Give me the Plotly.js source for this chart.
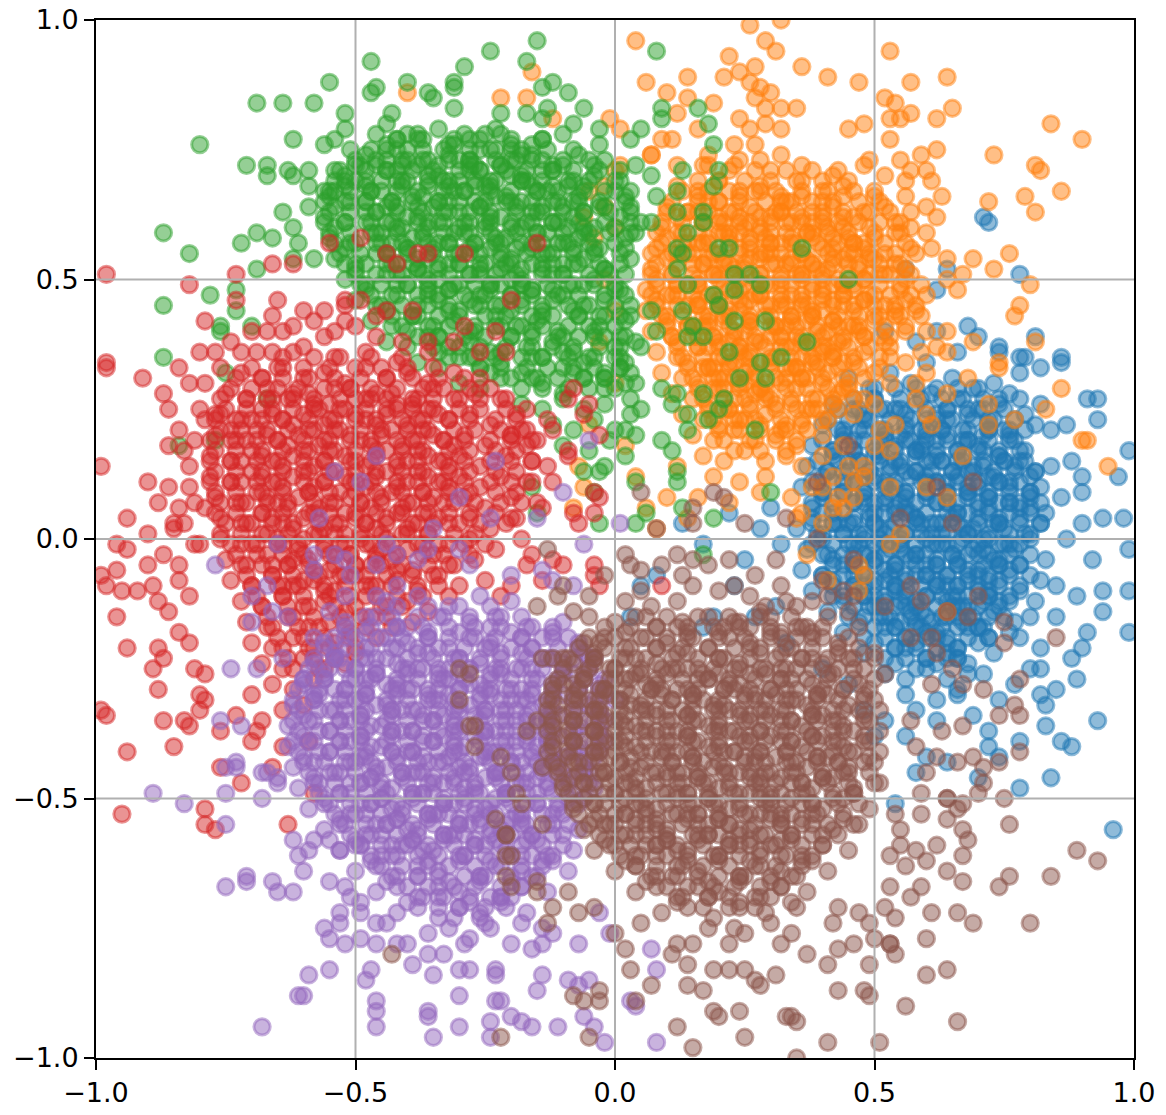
<!DOCTYPE html>
<html>
<head>
<meta charset="utf-8">
<script src="https://cdn.plot.ly/plotly-3.0.1.min.js"></script>
<style>html,body{margin:0;padding:0;background:#fff}</style>
</head>
<body>
<div id="chart" style="width:1166px;height:1115px"></div>
<script>
// six overlapping point clouds (x, y pairs)
const tickVals = [-1, -0.5, 0, 0.5, 1];
const tickText = ['\u22121.0', '\u22120.5', '0.0', '0.5', '1.0'];

const blue = [
[.99,.17],[.93,.27],[.91,.27],[.93,.23],[.97,.12],[.98,.04],[.99,-.02],[.92,-.04],[.94,-.10],[.99,-.10],[.99,-.18],[.94,-.14],[.91,-.18],[.90,-.21],[.89,-.27],[.88,-.23],[.85,-.29],[.83,-.32],[.87,.22],[.84,.21],[.88,.15],[.90,.12],[.90,.09],[.94,.04],[.90,.03],[.87,.00],[.83,-.04],[.85,-.09],[.89,-.11],[.82,.26],[.78,.27],[.81,.22],[.77,.19],[.84,.14],[.82,.10],[.80,.06],[.86,.08],[.82,.03],[.80,-.03],[.82,-.08],[.81,-.12],[.85,-.15],[.80,-.15],[.78,-.19],[.82,-.21],[.82,-.25],[.80,-.25],[.82,-.30],[.77,-.28],[.74,-.31],[.71,-.26],[.66,-.23],[.72,-.19],[.78,.32],[.86,.34],[.82,.33],[.78,.35],[.86,.35],[.78,.51],[.71,.62],[.72,.61],[.74,.37],[.74,.36],[.68,.41],[.70,.39],[.81,.39],[.79,.35],[.64,.52],[.62,.48],[.56,.52],
[.93,-.35],[.83,-.36],[.86,-.39],[.88,-.40],[.78,-.39],[.72,-.37],[.72,-.40],[.84,-.46],[.78,-.48],[.96,-.56],[.70,-.46],[.74,-.42],[.60,-.42],[.64,-.43],[.56,-.38],[.54,-.51],[.52,-.35],[.69,-.34],[.58,-.45],
[.05,-.09],[.08,-.07],[.17,-.01],[.13,.03],[.23,-.09],[.31,-.13],[.32,-.01],[.03,-.15],[.19,-.15],[.30,.06],[.17,-.17],
[.62,.40],[.66,.36],[.58,.38],[.52,.40],[.60,.34],[.28,.02],[.25,-.04],[.22,.05],[.27,-.15],[.33,-.20],[.40,-.25],[.45,-.28],[.48,-.33],[.62,-.35],[.66,-.30],[.58,-.33],[.50,-.38],
[.45,.31],[.49,.29],[.53,.32],[.57,.30],[.61,.28],[.65,.31],[.69,.29],[.73,.30],[.76,.28],
[.42,.26],[.46,.25],[.50,.27],[.54,.25],[.58,.26],[.62,.24],[.66,.27],[.70,.25],[.74,.26],[.79,.24],
[.40,.22],[.44,.21],[.48,.23],[.52,.21],[.56,.22],[.60,.20],[.64,.23],[.68,.21],[.72,.22],[.76,.21],
[.38,.18],[.42,.17],[.46,.19],[.50,.17],[.54,.18],[.58,.16],[.62,.19],[.66,.17],[.70,.18],[.74,.16],[.79,.17],
[.37,.14],[.41,.13],[.45,.15],[.49,.13],[.53,.14],[.57,.12],[.61,.15],[.65,.13],[.69,.14],[.73,.12],[.77,.14],[.81,.13],
[.36,.10],[.40,.09],[.44,.11],[.48,.09],[.52,.10],[.56,.08],[.60,.11],[.64,.09],[.68,.10],[.72,.08],[.76,.10],[.80,.09],
[.38,.06],[.42,.05],[.46,.07],[.50,.05],[.54,.06],[.58,.04],[.62,.07],[.66,.05],[.70,.06],[.74,.04],[.78,.06],[.83,.05],
[.35,.02],[.39,.01],[.43,.03],[.47,.01],[.51,.02],[.55,.00],[.59,.03],[.63,.01],[.67,.02],[.71,.00],[.75,.02],[.79,.01],
[.37,-.02],[.41,-.03],[.45,-.01],[.49,-.03],[.53,-.02],[.57,-.04],[.61,-.01],[.65,-.03],[.69,-.02],[.73,-.04],[.77,-.02],
[.36,-.06],[.40,-.07],[.44,-.05],[.48,-.07],[.52,-.06],[.56,-.08],[.60,-.05],[.64,-.07],[.68,-.06],[.72,-.08],[.76,-.06],[.80,-.07],
[.38,-.10],[.42,-.11],[.46,-.09],[.50,-.11],[.54,-.10],[.58,-.12],[.62,-.09],[.66,-.11],[.70,-.10],[.74,-.12],[.78,-.10],
[.41,-.14],[.45,-.15],[.49,-.13],[.53,-.15],[.57,-.14],[.61,-.16],[.65,-.13],[.69,-.15],[.73,-.14],[.77,-.16],
[.44,-.18],[.48,-.19],[.52,-.17],[.56,-.19],[.60,-.18],[.64,-.20],[.68,-.17],[.72,-.19],[.76,-.18],
[.48,-.22],[.52,-.23],[.56,-.21],[.60,-.23],[.64,-.22],[.68,-.24],[.73,-.22],
[.52,-.26],[.56,-.27],[.60,-.25],[.64,-.27],[.68,-.26],[.56,-.30],[.62,-.31],[.66,-.29],
[.51,.19],[.55,.20],[.59,.18],[.63,.21],[.67,.19],[.71,.20],
[.47,.15],[.51,.16],[.55,.14],[.59,.17],[.63,.15],[.67,.16],[.71,.14],[.75,.15],
[.46,.11],[.50,.12],[.54,.10],[.58,.13],[.62,.11],[.66,.12],[.70,.10],[.74,.11],
[.48,.07],[.52,.08],[.56,.06],[.60,.09],[.64,.07],[.68,.08],[.72,.06],[.76,.07],
[.45,.03],[.49,.04],[.53,.02],[.57,.05],[.61,.03],[.65,.04],[.69,.02],[.73,.03],
[.47,-.01],[.51,.00],[.55,-.02],[.59,.01],[.63,-.01],[.67,.00],[.71,-.02],[.75,-.01],
[.46,-.05],[.50,-.04],[.54,-.06],[.58,-.03],[.62,-.05],[.66,-.04],[.70,-.06],[.74,-.05],
[.48,-.09],[.52,-.08],[.56,-.10],[.60,-.07],[.64,-.09],[.68,-.08],[.72,-.10],
[.51,-.13],[.55,-.12],[.59,-.14],[.63,-.11],[.67,-.13],[.71,-.12],
[.54,-.17],[.58,-.16],[.62,-.18],[.66,-.15],[.70,-.17],
[.48,.24],[.52,.25],[.56,.24],[.60,.23],[.64,.25],[.68,.24],[.72,.23],
[.44,.20],[.48,.21],[.52,.20],[.56,.19],[.60,.21],[.64,.20],[.68,.19],[.72,.21],[.76,.20],
[.42,.16],[.46,.17],[.50,.16],[.54,.15],[.58,.17],[.62,.16],[.66,.15],[.70,.17],[.74,.16],[.78,.15],
[.40,.12],[.44,.13],[.48,.12],[.52,.11],[.56,.13],[.60,.12],[.64,.11],[.68,.13],[.72,.12],[.76,.11],[.80,.12],
[.40,.08],[.44,.09],[.48,.08],[.52,.07],[.56,.09],[.60,.08],[.64,.07],[.68,.09],[.72,.08],[.76,.07],[.80,.08],
[.38,.04],[.42,.03],[.46,.04],[.50,.03],[.54,.05],[.58,.04],[.62,.03],[.66,.05],[.70,.04],[.74,.03],[.78,.04],[.82,.03],
[.40,.00],[.44,.01],[.48,.00],[.52,-.01],[.56,.01],[.60,.00],[.64,-.01],[.68,.01],[.72,.00],[.76,-.01],[.80,.00],
[.42,-.04],[.46,-.03],[.50,-.04],[.54,-.05],[.58,-.03],[.62,-.04],[.66,-.05],[.70,-.03],[.74,-.04],[.78,-.05],
[.42,-.08],[.46,-.07],[.50,-.08],[.54,-.09],[.58,-.07],[.62,-.08],[.66,-.09],[.70,-.07],[.74,-.08],[.78,-.09],
[.44,-.12],[.48,-.11],[.52,-.12],[.56,-.13],[.60,-.11],[.64,-.12],[.68,-.13],[.72,-.11],[.76,-.12],
[.47,-.16],[.51,-.15],[.55,-.16],[.59,-.17],[.63,-.15],[.67,-.16],[.71,-.17],[.75,-.15],
[.50,-.20],[.54,-.21],[.58,-.20],[.62,-.19],[.66,-.21],[.70,-.20],
[.54,-.24],[.58,-.25],[.62,-.24],[.66,-.23]
];
// dense blue core, one row per y: [y, x, x, ...]
const blueFill = [
[.29,.50,.54,.58,.62,.66,.70],
[.27,.46,.50,.55,.59,.63,.67,.71,.74],
[.25,.43,.47,.51,.55,.60,.64,.68,.71,.75],
[.23,.41,.45,.49,.53,.57,.62,.65,.69,.73,.77],
[.21,.43,.47,.51,.56,.59,.63,.67,.72,.75,.79],
[.19,.40,.44,.48,.52,.57,.60,.64,.68,.72,.76],
[.17,.42,.46,.51,.54,.58,.62,.66,.71,.74,.78],
[.15,.39,.43,.47,.51,.55,.60,.63,.67,.71,.75,.79],
[.13,.41,.45,.49,.53,.58,.61,.65,.69,.73,.77,.81],
[.11,.38,.42,.46,.50,.54,.59,.62,.66,.70,.74,.78],
[.09,.40,.44,.48,.53,.56,.60,.64,.68,.72,.76,.80],
[.07,.38,.42,.46,.50,.55,.58,.62,.66,.70,.74,.78,.82],
[.05,.40,.44,.49,.52,.56,.60,.64,.68,.72,.76,.80],
[.03,.38,.42,.46,.50,.54,.58,.63,.66,.70,.74,.78],
[.01,.40,.44,.48,.52,.56,.61,.64,.68,.72,.76,.80],
[-.01,.38,.42,.46,.50,.55,.58,.62,.66,.70,.74,.78],
[-.03,.40,.44,.48,.52,.56,.60,.65,.68,.72,.76],
[-.05,.42,.46,.50,.54,.58,.62,.66,.71,.74,.78],
[-.07,.40,.44,.48,.53,.56,.60,.64,.68,.72,.76],
[-.09,.42,.46,.50,.54,.59,.62,.66,.70,.74],
[-.11,.44,.48,.52,.56,.60,.65,.68,.72,.76],
[-.13,.46,.50,.54,.58,.62,.66,.70,.74],
[-.15,.48,.52,.57,.60,.64,.68,.72],
[-.17,.50,.54,.58,.63,.66,.70],
[-.19,.52,.56,.60,.64,.68],
[-.21,.54,.58,.62,.66],
[-.23,.56,.60,.64]
];

const orange = [
[.04,.96],[.26,.99],[.32,1.0],[.29,.96],[.31,.94],[.22,.93],[.24,.90],[.21,.89],[.14,.89],[.27,.91],[.06,.88],[.10,.86],[.14,.85],[.12,.82],[.19,.84],[.16,.79],[.26,.88],[.28,.87],[.30,.86],[.27,.85],[.24,.81],[.29,.83],[.32,.83],[.29,.80],[.26,.79],[.27,.76],[.32,.79],[.23,.76],[.18,.74],[.09,.77],[.11,.77],[.07,.74],[-.01,.81],[.01,.79],[-.16,.90],[-.17,.85],[-.22,.85],[-.12,.81],[-.02,.68],[.23,.72],[.28,.73],[.32,.74],[.17,.72],[.12,.72],[.07,.74],[.00,.71],[-.05,.67],[-.06,.62],[-.40,.86],
[.36,.91],[.41,.89],[.47,.88],[.53,.94],[.57,.88],[.64,.89],[.52,.85],[.54,.84],[.57,.82],[.65,.83],[.62,.81],[.84,.80],[.90,.77],[.73,.74],[.81,.72],[.82,.71],[.86,.67],[.79,.66],[.81,.63],[.72,.65],[.35,.83],[.45,.79],[.48,.80],[.53,.81],[.55,.81],[.53,.77],[.62,.75],[.59,.74],[.55,.73],[.49,.73],[.57,.71],[.60,.71],[.61,.69],[.52,.70],[.56,.69],[.56,.66],[.63,.66],[.60,.64],[.57,.63],[.54,.61],[.62,.62],[.57,.60],[.60,.59],[.61,.56],[.64,.54],[.69,.54],[.76,.55],[.73,.52],[.67,.51],[.80,.49],[.78,.45],[.77,.43],[.69,.38],[.64,.40],[.64,.36],[.59,.36],[.60,.40],[.58,.44],[.81,.38],[.74,.34],[.64,.50],[.66,.48],
[.74,.33],[.86,.29],[.83,.25],[.77,.23],[.91,.19],[.90,.19],[.95,.14],[.72,.22],[.72,.26],[.67,.16],[.68,.31],[.64,.08],[.60,.10],[.64,-.14],[.53,-.01],[.37,-.03],[.47,-.05],[.41,-.08],[.47,-.10],[.48,-.07],[.42,.06],[.55,.01],[.61,.22],[.60,.24],[.58,.30],[.64,.28],[.53,.10],[.46,.11],[.53,.17],[.51,.21],[.48,.14],[.43,.08],[.35,.04],
[-.02,.64],[.00,.60],[.01,.72],[-.04,.58],[-.02,.50],[.00,.44],[-.03,.38],[.00,.30],[-.05,.22],[-.07,.14],[-.08,.06],[-.06,.10],[.02,.18],[.04,.12],[.06,.06],[.08,.02],[.10,.08],[.12,.14],[.14,.04],
[.16,.08],[.22,.07],[.28,.09],[.34,.08],[.40,.10],[.45,.14],[.50,.18],[.54,.22],[.58,.27],[.60,.32],[.62,.37],
[.36,.14],[.40,.16],[.44,.18],[.38,.10],[.42,.12],[.46,.08],[.36,.05],[.40,.03],[.44,.06],[.48,.12],[.50,.26],[.53,.30],[.56,.34],
[.18,.72],[.24,.73],[.30,.71],[.36,.72],[.42,.70],[.48,.72],
[.12,.68],[.16,.67],[.20,.69],[.24,.67],[.28,.68],[.32,.66],[.36,.69],[.40,.67],[.44,.68],[.50,.66],
[.10,.64],[.14,.63],[.18,.65],[.22,.63],[.26,.64],[.30,.62],[.34,.65],[.38,.63],[.42,.64],[.46,.62],[.52,.64],
[.09,.60],[.13,.59],[.17,.61],[.21,.59],[.25,.60],[.29,.58],[.33,.61],[.37,.59],[.41,.60],[.45,.58],[.49,.60],[.55,.59],
[.08,.56],[.12,.55],[.16,.57],[.20,.55],[.24,.56],[.28,.54],[.32,.57],[.36,.55],[.40,.56],[.44,.54],[.48,.56],[.52,.55],[.57,.56],
[.07,.52],[.11,.51],[.15,.53],[.19,.51],[.23,.52],[.27,.50],[.31,.53],[.35,.51],[.39,.52],[.43,.50],[.47,.52],[.51,.51],[.56,.52],
[.06,.48],[.10,.47],[.14,.49],[.18,.47],[.22,.48],[.26,.46],[.30,.49],[.34,.47],[.38,.48],[.42,.46],[.46,.48],[.50,.47],[.55,.48],[.60,.47],
[.06,.44],[.10,.43],[.14,.45],[.18,.43],[.22,.44],[.26,.42],[.30,.45],[.34,.43],[.38,.44],[.42,.42],[.46,.44],[.50,.43],[.54,.44],[.59,.43],
[.07,.40],[.11,.39],[.15,.41],[.19,.39],[.23,.40],[.27,.38],[.31,.41],[.35,.39],[.39,.40],[.43,.38],[.47,.40],[.51,.39],[.56,.40],
[.08,.36],[.12,.35],[.16,.37],[.20,.35],[.24,.36],[.28,.34],[.32,.37],[.36,.35],[.40,.36],[.44,.34],[.48,.36],[.53,.35],
[.09,.32],[.13,.31],[.17,.33],[.21,.31],[.25,.32],[.29,.30],[.33,.33],[.37,.31],[.41,.32],[.45,.30],[.50,.32],
[.11,.28],[.15,.27],[.19,.29],[.23,.27],[.27,.28],[.31,.26],[.35,.29],[.39,.27],[.43,.28],[.48,.27],
[.13,.24],[.17,.23],[.21,.25],[.25,.23],[.29,.24],[.33,.22],[.37,.25],[.41,.23],[.46,.24],
[.15,.20],[.19,.19],[.23,.21],[.27,.19],[.31,.20],[.35,.18],[.40,.20],
[.17,.16],[.21,.15],[.25,.17],[.29,.15],[.33,.16],[.19,.12],[.24,.11],[.29,.12],
[.20,.61],[.24,.62],[.28,.60],[.32,.63],[.36,.61],[.40,.62],[.44,.60],
[.18,.57],[.22,.58],[.26,.56],[.30,.59],[.34,.57],[.38,.58],[.42,.56],[.46,.57],
[.17,.53],[.21,.54],[.25,.52],[.29,.55],[.33,.53],[.37,.54],[.41,.52],[.45,.53],[.49,.54],
[.16,.49],[.20,.50],[.24,.48],[.28,.51],[.32,.49],[.36,.50],[.40,.48],[.44,.49],[.48,.50],
[.16,.45],[.20,.46],[.24,.44],[.28,.47],[.32,.45],[.36,.46],[.40,.44],[.44,.45],[.48,.46],
[.17,.41],[.21,.42],[.25,.40],[.29,.43],[.33,.41],[.37,.42],[.41,.40],[.45,.41],
[.18,.37],[.22,.38],[.26,.36],[.30,.39],[.34,.37],[.38,.38],[.42,.36],
[.19,.33],[.23,.34],[.27,.32],[.31,.35],[.35,.33],[.39,.34],
[.21,.29],[.25,.30],[.29,.28],[.33,.31],
[.16,.66],[.20,.65],[.24,.66],[.28,.67],[.32,.65],[.36,.66],[.40,.65],[.44,.66],
[.12,.62],[.16,.63],[.20,.62],[.24,.61],[.28,.62],[.32,.63],[.36,.62],[.40,.61],[.44,.62],[.48,.63],
[.10,.58],[.14,.57],[.18,.58],[.22,.59],[.26,.58],[.30,.57],[.34,.58],[.38,.59],[.42,.58],[.46,.57],[.50,.58],
[.10,.54],[.14,.55],[.18,.54],[.22,.53],[.26,.54],[.30,.55],[.34,.54],[.38,.53],[.42,.54],[.46,.55],[.50,.54],[.54,.53],
[.08,.50],[.12,.49],[.16,.50],[.20,.51],[.24,.50],[.28,.49],[.32,.50],[.36,.51],[.40,.50],[.44,.49],[.48,.50],[.52,.51],[.56,.50],
[.08,.46],[.12,.47],[.16,.46],[.20,.45],[.24,.46],[.28,.47],[.32,.46],[.36,.45],[.40,.46],[.44,.47],[.48,.46],[.52,.45],[.56,.46],
[.10,.42],[.14,.41],[.18,.42],[.22,.43],[.26,.42],[.30,.41],[.34,.42],[.38,.43],[.42,.42],[.46,.41],[.50,.42],[.54,.43],
[.12,.38],[.16,.39],[.20,.38],[.24,.37],[.28,.38],[.32,.39],[.36,.38],[.40,.37],[.44,.38],[.48,.39],[.52,.38],
[.14,.34],[.18,.33],[.22,.34],[.26,.35],[.30,.34],[.34,.33],[.38,.34],[.42,.35],[.46,.34],
[.16,.30],[.20,.31],[.24,.30],[.28,.29],[.32,.30],[.36,.31],[.40,.30],[.44,.29],
[.18,.26],[.22,.25],[.26,.26],[.30,.27],[.34,.26],[.38,.25],[.42,.26],
[.20,.22],[.24,.23],[.28,.22],[.32,.21],[.36,.22]
];
const orangeFill = [
[.71,.22,.27,.33,.38,.43],
[.69,.16,.20,.25,.30,.35,.40,.45],
[.67,.13,.18,.22,.27,.31,.36,.41,.46,.50],
[.65,.11,.16,.20,.24,.29,.33,.38,.42,.47,.51],
[.63,.10,.14,.18,.23,.27,.31,.35,.40,.44,.49,.53],
[.61,.09,.13,.17,.21,.26,.30,.34,.38,.43,.47,.51,.55],
[.59,.08,.12,.16,.20,.24,.28,.33,.37,.41,.45,.50,.54],
[.57,.09,.13,.17,.22,.26,.30,.35,.39,.43,.48,.52,.56],
[.55,.07,.11,.15,.19,.24,.28,.32,.36,.41,.45,.49,.54,.58],
[.53,.08,.12,.17,.21,.25,.30,.34,.38,.42,.47,.51,.55],
[.51,.07,.11,.15,.19,.23,.28,.32,.36,.40,.45,.49,.53,.57],
[.49,.08,.12,.16,.21,.25,.29,.34,.38,.42,.46,.51,.55,.59],
[.47,.07,.11,.15,.19,.23,.27,.32,.36,.40,.44,.49,.53,.57],
[.45,.08,.12,.16,.20,.25,.29,.33,.37,.42,.46,.50,.54,.58],
[.43,.09,.13,.17,.21,.26,.30,.34,.38,.43,.47,.51,.55],
[.41,.10,.14,.18,.22,.26,.31,.35,.39,.43,.47,.52,.56],
[.39,.11,.15,.19,.23,.27,.32,.36,.40,.44,.48,.53],
[.37,.12,.16,.20,.24,.29,.33,.37,.41,.45,.49,.53],
[.35,.13,.17,.21,.25,.30,.34,.38,.42,.46,.51],
[.33,.14,.18,.22,.26,.30,.35,.39,.43,.47,.51],
[.31,.15,.19,.23,.27,.31,.36,.40,.44,.48],
[.29,.16,.20,.24,.28,.33,.37,.41,.45],
[.27,.17,.21,.25,.29,.34,.38,.42,.46],
[.25,.18,.22,.26,.31,.35,.39,.43],
[.23,.19,.23,.27,.32,.36,.40],
[.21,.20,.24,.28,.33,.37],
[.19,.21,.26,.31,.35],
[.17,.23,.28,.33]
];

const green = [
[-.47,.92],[-.55,.88],[-.46,.87],[-.47,.86],[-.69,.84],[-.64,.84],[-.58,.84],[-.52,.82],[-.80,.76],[-.62,.77],[-.56,.76],[-.54,.77],[-.52,.79],[-.51,.75],[-.71,.72],[-.67,.72],[-.67,.70],[-.63,.71],[-.62,.70],[-.59,.71],[-.59,.68],[-.54,.71],[-.54,.67],[-.40,.88],[-.36,.86],[-.35,.85],[-.43,.82],[-.44,.80],[-.46,.78],[-.42,.77],[-.38,.78],
[-.87,.59],[-.82,.55],[-.87,.45],[-.87,.35],[-.78,.47],[-.72,.57],[-.69,.59],[-.66,.58],[-.64,.63],[-.62,.60],[-.61,.57],[-.59,.64],[-.56,.67],[-.62,.54],[-.58,.54],[-.69,.52],[-.73,.48],[-.70,.41],[-.76,.41],[-.76,.40],[-.73,.44],[-.52,.69],[-.49,.72],[-.44,.75],[-.41,.72],
[-.15,.96],[-.24,.94],[.08,.94],[-.29,.91],[-.17,.92],[-.31,.88],[-.31,.87],[-.31,.83],[-.22,.82],[-.23,.79],[-.25,.78],[-.12,.88],[-.14,.87],[-.09,.86],[-.06,.83],[-.08,.80],[-.13,.83],[-.14,.81],[-.17,.82],[.09,.81],[.09,.83],[.05,.79],[.03,.77],[.16,.83],[.18,.80],[.19,.76],[-.03,.79],[-.03,.76],[-.31,.76],[-.29,.78],[-.27,.72],[-.20,.75],[-.18,.74],[-.27,.68],
[.04,.72],[.07,.70],[.13,.71],[.12,.67],[.20,.71],[.19,.68],[.08,.66],[.07,.61],[.12,.63],[.17,.63],[.17,.61],[.14,.59],[.12,.56],[.13,.55],[.20,.56],[.22,.56],[.23,.51],[.26,.51],[.28,.49],[.23,.48],[.19,.47],[.20,.45],[.23,.42],[.29,.42],[.32,.35],[.28,.34],[.22,.36],[.15,.41],[.14,.39],[.17,.39],[.13,.44],[.07,.44],[.08,.40],[.05,.37],[.14,.49],[.12,.52],[.36,.56],[.45,.50],[.37,.38],
[.24,.31],[.29,.31],[.17,.28],[.21,.27],[.20,.25],[.18,.23],[.14,.21],[.14,.24],[.11,.26],[.12,.28],[.09,.29],[.05,.25],[.04,.30],[.03,.27],[.27,.21],[.09,.19],[.11,.17],[.02,.21],[.04,.20],[.02,.16],[.12,.13],[.12,.11],[.04,.11],[.06,.05],[.04,.03],[.13,.06],[.19,.04],[.30,.09],[.17,-.03],[-.03,.13],[-.04,.09],[-.02,.14],[-.06,.13],[-.16,.10],[-.15,.05],[.01,.33],[-.03,.03],
[-.84,.18],[-.77,.19],[-.67,.27],[-.75,.32],
[-.40,.78],[-.34,.79],[-.28,.77],[-.22,.78],[-.16,.76],[-.10,.78],
[-.48,.74],[-.44,.73],[-.40,.75],[-.36,.73],[-.32,.74],[-.28,.72],[-.24,.75],[-.20,.73],[-.16,.74],[-.12,.72],[-.07,.74],[-.02,.73],
[-.52,.70],[-.48,.69],[-.44,.71],[-.40,.69],[-.36,.70],[-.32,.68],[-.28,.71],[-.24,.69],[-.20,.70],[-.16,.68],[-.12,.71],[-.08,.69],[-.04,.70],[.01,.69],
[-.55,.66],[-.51,.65],[-.47,.67],[-.43,.65],[-.39,.66],[-.35,.64],[-.31,.67],[-.27,.65],[-.23,.66],[-.19,.64],[-.15,.67],[-.11,.65],[-.07,.66],[-.03,.64],[.02,.66],
[-.56,.62],[-.52,.61],[-.48,.63],[-.44,.61],[-.40,.62],[-.36,.60],[-.32,.63],[-.28,.61],[-.24,.62],[-.20,.60],[-.16,.63],[-.12,.61],[-.08,.62],[-.04,.60],[.01,.62],[.05,.61],
[-.55,.58],[-.51,.57],[-.47,.59],[-.43,.57],[-.39,.58],[-.35,.56],[-.31,.59],[-.27,.57],[-.23,.58],[-.19,.56],[-.15,.59],[-.11,.57],[-.07,.58],[-.03,.56],[.02,.58],
[-.54,.54],[-.50,.53],[-.46,.55],[-.42,.53],[-.38,.54],[-.34,.52],[-.30,.55],[-.26,.53],[-.22,.54],[-.18,.52],[-.14,.55],[-.10,.53],[-.06,.54],[-.02,.52],[.03,.54],
[-.52,.50],[-.48,.49],[-.44,.51],[-.40,.49],[-.36,.50],[-.32,.48],[-.28,.51],[-.24,.49],[-.20,.50],[-.16,.48],[-.12,.51],[-.08,.49],[-.04,.50],[.01,.48],
[-.50,.46],[-.46,.45],[-.42,.47],[-.38,.45],[-.34,.46],[-.30,.44],[-.26,.47],[-.22,.45],[-.18,.46],[-.14,.44],[-.10,.47],[-.06,.45],[-.02,.46],[.03,.45],
[-.47,.42],[-.43,.41],[-.39,.43],[-.35,.41],[-.31,.42],[-.27,.40],[-.23,.43],[-.19,.41],[-.15,.42],[-.11,.40],[-.07,.43],[-.03,.41],[.02,.42],
[-.44,.38],[-.40,.37],[-.36,.39],[-.32,.37],[-.28,.38],[-.24,.36],[-.20,.39],[-.16,.37],[-.12,.38],[-.08,.36],[-.04,.39],[.00,.37],[.04,.38],
[-.38,.34],[-.34,.33],[-.30,.35],[-.26,.33],[-.22,.34],[-.18,.32],[-.14,.35],[-.10,.33],[-.06,.34],[-.02,.32],[.02,.34],
[-.30,.30],[-.26,.29],[-.22,.31],[-.18,.29],[-.14,.30],[-.10,.28],[-.06,.31],[-.02,.29],[.02,.30],
[-.18,.26],[-.14,.25],[-.10,.27],[-.06,.25],[-.02,.26],[.03,.24],[-.12,.22],[-.08,.21],[-.04,.23],[.00,.21],[-.10,.18],[-.05,.17],[-.01,.19],
[-.42,.71],[-.38,.72],[-.34,.70],[-.30,.73],[-.26,.71],[-.22,.72],[-.18,.70],[-.14,.71],
[-.45,.67],[-.41,.68],[-.37,.66],[-.33,.69],[-.29,.67],[-.25,.68],[-.21,.66],[-.17,.69],[-.13,.67],[-.09,.68],
[-.46,.63],[-.42,.64],[-.38,.62],[-.34,.65],[-.30,.63],[-.26,.64],[-.22,.62],[-.18,.65],[-.14,.63],[-.10,.64],[-.06,.63],
[-.45,.59],[-.41,.60],[-.37,.58],[-.33,.61],[-.29,.59],[-.25,.60],[-.21,.58],[-.17,.61],[-.13,.59],[-.09,.60],[-.05,.59],
[-.44,.55],[-.40,.56],[-.36,.54],[-.32,.57],[-.28,.55],[-.24,.56],[-.20,.54],[-.16,.57],[-.12,.55],[-.08,.56],
[-.42,.51],[-.38,.52],[-.34,.50],[-.30,.53],[-.26,.51],[-.22,.52],[-.18,.50],[-.14,.53],[-.10,.51],
[-.36,.47],[-.32,.48],[-.28,.46],[-.24,.49],[-.20,.47],[-.16,.48],[-.12,.46],
[-.44,.76],[-.38,.77],[-.32,.76],[-.26,.75],[-.20,.76],[-.14,.77],
[-.50,.72],[-.46,.72],[-.40,.73],[-.34,.72],[-.28,.73],[-.22,.72],[-.16,.73],[-.10,.72],[-.04,.72],
[-.52,.68],[-.48,.68],[-.42,.69],[-.36,.68],[-.30,.69],[-.24,.68],[-.18,.69],[-.12,.68],[-.06,.68],[.00,.67],
[-.54,.64],[-.48,.65],[-.44,.64],[-.38,.64],[-.32,.65],[-.26,.64],[-.20,.65],[-.14,.64],[-.08,.65],[-.02,.64],[.03,.64],
[-.54,.60],[-.48,.61],[-.42,.60],[-.36,.61],[-.30,.60],[-.24,.61],[-.18,.60],[-.12,.61],[-.06,.60],[.00,.60],[.04,.59],
[-.52,.56],[-.46,.57],[-.40,.56],[-.34,.57],[-.28,.56],[-.22,.57],[-.16,.56],[-.10,.57],[-.04,.56],[.02,.56],
[-.50,.52],[-.44,.53],[-.38,.52],[-.32,.53],[-.26,.52],[-.20,.53],[-.14,.52],[-.08,.53],[-.02,.52],[.02,.51],
[-.48,.48],[-.42,.49],[-.36,.48],[-.30,.49],[-.24,.48],[-.18,.49],[-.12,.48],[-.06,.49],[.00,.48],
[-.44,.44],[-.38,.43],[-.32,.44],[-.26,.45],[-.20,.44],[-.14,.43],[-.08,.44],[-.02,.43],[.03,.43],
[-.40,.40],[-.34,.39],[-.28,.40],[-.22,.41],[-.16,.40],[-.10,.39],[-.04,.40],[.01,.39],
[-.34,.36],[-.28,.35],[-.22,.36],[-.16,.35],[-.10,.36],[-.04,.35],[.01,.35],
[-.24,.32],[-.16,.31],[-.08,.32],[-.02,.31],[.03,.32]
];
const greenFill = [
[.77,-.42,-.37,-.31,-.26,-.20,-.14],
[.75,-.47,-.42,-.37,-.33,-.28,-.23,-.18,-.13,-.08],
[.73,-.50,-.46,-.41,-.37,-.32,-.28,-.23,-.19,-.14,-.10,-.05],
[.71,-.53,-.48,-.44,-.39,-.35,-.30,-.26,-.21,-.17,-.12,-.08,-.03,.01],
[.69,-.54,-.50,-.45,-.41,-.36,-.32,-.27,-.23,-.18,-.14,-.09,-.05,.00],
[.67,-.55,-.51,-.47,-.42,-.38,-.33,-.29,-.24,-.20,-.15,-.11,-.06,-.02,.03],
[.65,-.56,-.52,-.48,-.43,-.39,-.34,-.30,-.25,-.21,-.16,-.12,-.07,-.03,.02],
[.63,-.55,-.51,-.46,-.42,-.37,-.33,-.28,-.24,-.19,-.15,-.10,-.06,-.01,.03],
[.61,-.56,-.52,-.47,-.43,-.38,-.34,-.29,-.25,-.20,-.16,-.11,-.07,-.02,.03],
[.59,-.55,-.51,-.46,-.42,-.37,-.33,-.28,-.24,-.19,-.15,-.10,-.06,-.01,.03],
[.57,-.54,-.50,-.45,-.41,-.36,-.32,-.27,-.23,-.18,-.14,-.09,-.05,.00],
[.55,-.53,-.49,-.44,-.40,-.35,-.31,-.26,-.22,-.17,-.13,-.08,-.04,.01],
[.53,-.52,-.48,-.43,-.39,-.34,-.30,-.25,-.21,-.16,-.12,-.07,-.03,.01],
[.51,-.50,-.46,-.41,-.37,-.32,-.28,-.23,-.19,-.14,-.10,-.05,-.01],
[.49,-.49,-.45,-.40,-.36,-.31,-.27,-.22,-.18,-.13,-.09,-.04,.00],
[.47,-.47,-.43,-.38,-.34,-.29,-.25,-.20,-.16,-.11,-.07,-.02,.02],
[.45,-.45,-.41,-.36,-.32,-.27,-.23,-.18,-.14,-.09,-.05,.00],
[.43,-.43,-.39,-.34,-.30,-.25,-.21,-.16,-.12,-.07,-.03,.01],
[.41,-.41,-.36,-.32,-.27,-.23,-.18,-.14,-.09,-.05,.00],
[.39,-.38,-.34,-.29,-.25,-.20,-.16,-.11,-.07,-.02,.02],
[.37,-.35,-.30,-.26,-.21,-.17,-.12,-.08,-.03,.01],
[.35,-.32,-.27,-.23,-.18,-.14,-.09,-.05,.00],
[.33,-.26,-.22,-.17,-.13,-.08,-.04,.01],
[.31,-.20,-.15,-.11,-.06,-.02],
[.29,-.14,-.09,-.05,.00]
];

const red = [
[-.98,.51],[-.82,.49],[-.79,.42],[-.73,.51],[-.66,.53],[-.62,.53],[-.73,.46],[-.65,.46],[-.60,.44],[-.56,.44],[-.52,.42],[-.98,.34],[-.77,.36],[-.74,.38],[-.72,.36],[-.69,.36],[-.67,.40],[-.64,.40],[-.62,.36],[-.55,.57],[-.49,.58],[-.44,.55],[-.42,.53],[-.38,.55],[-.36,.55],[-.52,.46],[-.49,.46],[-.46,.43],[-.39,.44],[-.41,.38],[-.36,.38],[-.56,.39],[-.52,.45],[-.29,.55],[-.15,.57],[-.20,.46],[-.23,.40],[-.29,.41],[-.31,.38],[-.21,.36],[-.26,.36],
[-.98,.33],[-.91,.31],[-.87,.28],[-.86,.25],[-.82,.30],[-.79,.30],[-.99,.14],[-.90,.11],[-.84,.21],[-.86,.10],[-.88,.07],[-.94,.04],[-.90,.01],[-.85,.02],[-.83,.03],[-.96,-.01],[-.94,-.02],[-.99,-.07],[-.96,-.06],[-.98,-.09],[-.95,-.10],[-.92,-.10],[-.90,-.05],[-.89,-.09],[-.87,-.03],[-.84,-.05],[-.88,-.12],[-.96,-.15],[-.86,-.14],[-.84,-.18],[-.94,-.21],[-.88,-.21],[-.89,-.25],[-.88,-.29],[-.87,-.23],[-.82,-.11],[-.81,-.25],[-.79,-.26],[-.79,-.31],[-.80,-.30],[-.99,-.33],[-.81,-.01],[-.80,-.01],
[-.83,.17],[-.81,.19],[-.79,.23],[-.80,.25],[-.77,.24],[-.74,.21],[-.82,.10],[-.81,.07],[-.84,.06],[-.79,.06],[-.85,.03],
[-.98,-.34],[-.94,-.41],[-.95,-.53],[-.87,-.35],[-.85,-.40],[-.83,-.35],[-.82,-.36],[-.80,-.33],[-.76,-.44],[-.72,-.47],[-.79,-.52],[-.79,-.55],[-.77,-.56],[-.76,-.37],[-.73,-.34],[-.70,-.39],[-.69,-.37],[-.64,-.40],[-.63,-.55],[-.59,-.39],[-.58,-.49],[-.66,-.44],
[-.08,.29],[-.05,.26],[-.06,.24],[-.09,.27],[-.03,.20],[-.13,.23],[-.12,.21],[-.09,.17],[-.09,.16],[-.04,.09],[-.03,.08],[-.04,.05],[-.08,.05],[-.07,.03],[-.17,.21],[-.17,.18],[-.20,.20],[-.13,.14],[-.12,.11],[-.14,.06],[-.20,.04],[-.18,.00],[-.16,-.03],[-.12,-.04],[-.10,-.05],[-.17,-.05],[-.04,-.05],[-.04,-.07],[-.03,-.09],[.09,-.09],[-.14,-.08],[-.20,-.09],[-.22,-.11],[-.25,-.08],
[-.70,.40],[-.66,.43],[-.62,.41],[-.58,.42],[-.54,.40],[-.50,.41],[-.46,.39],[-.44,.44],[-.76,.33],[-.80,.36],[-.84,.33],[-.82,.14],[-.86,.18],[-.84,-.08],[-.82,-.20],
[-.66,.36],[-.60,.37],[-.54,.35],[-.48,.36],[-.42,.34],[-.36,.36],
[-.72,.32],[-.68,.31],[-.64,.33],[-.60,.31],[-.56,.32],[-.52,.30],[-.48,.33],[-.44,.31],[-.40,.32],[-.36,.30],[-.31,.32],[-.26,.31],
[-.75,.28],[-.71,.27],[-.67,.29],[-.63,.27],[-.59,.28],[-.55,.26],[-.51,.29],[-.47,.27],[-.43,.28],[-.39,.26],[-.35,.29],[-.31,.27],[-.27,.28],[-.22,.27],
[-.76,.24],[-.72,.23],[-.68,.25],[-.64,.23],[-.60,.24],[-.56,.22],[-.52,.25],[-.48,.23],[-.44,.24],[-.40,.22],[-.36,.25],[-.32,.23],[-.28,.24],[-.24,.22],[-.19,.24],
[-.77,.20],[-.73,.19],[-.69,.21],[-.65,.19],[-.61,.20],[-.57,.18],[-.53,.21],[-.49,.19],[-.45,.20],[-.41,.18],[-.37,.21],[-.33,.19],[-.29,.20],[-.25,.18],[-.20,.20],[-.15,.19],
[-.78,.16],[-.74,.15],[-.70,.17],[-.66,.15],[-.62,.16],[-.58,.14],[-.54,.17],[-.50,.15],[-.46,.16],[-.42,.14],[-.38,.17],[-.34,.15],[-.30,.16],[-.26,.14],[-.21,.16],[-.16,.15],
[-.78,.12],[-.74,.11],[-.70,.13],[-.66,.11],[-.62,.12],[-.58,.10],[-.54,.13],[-.50,.11],[-.46,.12],[-.42,.10],[-.38,.13],[-.34,.11],[-.30,.12],[-.26,.10],[-.22,.12],[-.17,.11],
[-.77,.08],[-.73,.07],[-.69,.09],[-.65,.07],[-.61,.08],[-.57,.06],[-.53,.09],[-.49,.07],[-.45,.08],[-.41,.06],[-.37,.09],[-.33,.07],[-.29,.08],[-.25,.06],[-.20,.08],[-.15,.07],
[-.76,.04],[-.72,.03],[-.68,.05],[-.64,.03],[-.60,.04],[-.56,.02],[-.52,.05],[-.48,.03],[-.44,.04],[-.40,.02],[-.36,.05],[-.32,.03],[-.28,.04],[-.24,.02],[-.19,.04],
[-.76,.00],[-.72,-.01],[-.68,.01],[-.64,-.01],[-.60,.00],[-.56,-.02],[-.52,.01],[-.48,-.01],[-.44,.00],[-.40,-.02],[-.36,.01],[-.32,-.01],[-.28,.00],[-.23,-.02],
[-.75,-.04],[-.71,-.05],[-.67,-.03],[-.63,-.05],[-.59,-.04],[-.55,-.06],[-.51,-.03],[-.47,-.05],[-.43,-.04],[-.39,-.06],[-.35,-.03],[-.31,-.05],[-.27,-.04],
[-.74,-.08],[-.70,-.09],[-.66,-.07],[-.62,-.09],[-.58,-.08],[-.54,-.10],[-.50,-.07],[-.46,-.09],[-.42,-.08],[-.38,-.10],[-.34,-.07],[-.30,-.09],
[-.72,-.12],[-.68,-.13],[-.64,-.11],[-.60,-.13],[-.56,-.12],[-.52,-.14],[-.48,-.11],[-.44,-.13],[-.40,-.12],[-.36,-.14],[-.32,-.11],
[-.71,-.16],[-.67,-.17],[-.63,-.15],[-.59,-.17],[-.55,-.16],[-.51,-.18],[-.47,-.15],[-.43,-.17],[-.39,-.16],
[-.70,-.20],[-.66,-.21],[-.62,-.19],[-.58,-.21],[-.54,-.20],[-.50,-.22],[-.46,-.19],
[-.68,-.24],[-.64,-.25],[-.60,-.23],[-.56,-.25],[-.52,-.24],[-.66,-.28],[-.62,-.29],[-.58,-.27],[-.70,-.30],[-.64,-.33],[-.60,-.32],[-.68,-.35],
[-.66,.27],[-.62,.28],[-.58,.26],[-.54,.29],[-.50,.27],[-.46,.28],[-.42,.26],[-.38,.27],
[-.70,.23],[-.66,.24],[-.62,.22],[-.58,.25],[-.54,.23],[-.50,.24],[-.46,.22],[-.42,.25],[-.38,.23],[-.34,.24],
[-.71,.19],[-.67,.20],[-.63,.18],[-.59,.21],[-.55,.19],[-.51,.20],[-.47,.18],[-.43,.21],[-.39,.19],[-.35,.20],[-.31,.18],
[-.72,.15],[-.68,.16],[-.64,.14],[-.60,.17],[-.56,.15],[-.52,.16],[-.48,.14],[-.44,.17],[-.40,.15],[-.36,.16],[-.32,.14],
[-.72,.11],[-.68,.12],[-.64,.10],[-.60,.13],[-.56,.11],[-.52,.12],[-.48,.10],[-.44,.13],[-.40,.11],[-.36,.12],[-.32,.10],
[-.71,.07],[-.67,.08],[-.63,.06],[-.59,.09],[-.55,.07],[-.51,.08],[-.47,.06],[-.43,.09],[-.39,.07],[-.35,.08],
[-.70,.03],[-.66,.04],[-.62,.02],[-.58,.05],[-.54,.03],[-.50,.04],[-.46,.02],[-.42,.05],[-.38,.03],[-.34,.04],
[-.69,-.01],[-.65,.00],[-.61,-.02],[-.57,.01],[-.53,-.01],[-.49,.00],[-.45,-.02],[-.41,.01],[-.37,-.01],
[-.66,-.05],[-.62,-.04],[-.58,-.06],[-.54,-.03],[-.50,-.05],[-.46,-.04],[-.42,-.06],
[-.64,-.09],[-.60,-.08],[-.56,-.10],[-.52,-.07],[-.48,-.09]
];
const redFill = [
[.35,-.64,-.58,-.53,-.47,-.41],
[.33,-.70,-.65,-.60,-.55,-.50,-.45,-.40,-.35],
[.31,-.73,-.68,-.64,-.59,-.54,-.49,-.44,-.39,-.34,-.29],
[.29,-.74,-.70,-.65,-.61,-.56,-.51,-.47,-.42,-.37,-.33,-.28,-.24],
[.27,-.76,-.71,-.67,-.62,-.58,-.53,-.48,-.44,-.39,-.35,-.30,-.26,-.21],
[.25,-.75,-.71,-.66,-.62,-.57,-.53,-.48,-.44,-.39,-.35,-.30,-.26,-.21,-.17],
[.23,-.77,-.73,-.68,-.64,-.59,-.55,-.50,-.46,-.41,-.37,-.32,-.28,-.23,-.19],
[.21,-.76,-.72,-.67,-.63,-.58,-.54,-.49,-.45,-.40,-.36,-.31,-.27,-.22,-.18],
[.19,-.78,-.74,-.69,-.65,-.60,-.56,-.51,-.47,-.42,-.38,-.33,-.29,-.24,-.20,-.16],
[.17,-.77,-.73,-.68,-.64,-.59,-.55,-.50,-.46,-.41,-.37,-.32,-.28,-.23,-.19],
[.15,-.78,-.74,-.69,-.65,-.60,-.56,-.51,-.47,-.42,-.38,-.33,-.29,-.24,-.20,-.16],
[.13,-.77,-.73,-.68,-.64,-.59,-.55,-.50,-.46,-.41,-.37,-.32,-.28,-.23,-.19],
[.11,-.78,-.74,-.69,-.65,-.60,-.56,-.51,-.47,-.42,-.38,-.33,-.29,-.24,-.20,-.16],
[.09,-.77,-.73,-.68,-.64,-.59,-.55,-.50,-.46,-.41,-.37,-.32,-.28,-.23,-.19],
[.07,-.76,-.72,-.67,-.63,-.58,-.54,-.49,-.45,-.40,-.36,-.31,-.27,-.22,-.18],
[.05,-.77,-.73,-.68,-.64,-.59,-.55,-.50,-.46,-.41,-.37,-.32,-.28,-.23],
[.03,-.75,-.71,-.66,-.62,-.57,-.53,-.48,-.44,-.39,-.35,-.30,-.26,-.21],
[.01,-.76,-.72,-.67,-.63,-.58,-.54,-.49,-.45,-.40,-.36,-.31,-.27],
[-.01,-.74,-.70,-.65,-.61,-.56,-.52,-.47,-.43,-.38,-.34,-.29,-.25],
[-.03,-.73,-.69,-.64,-.60,-.55,-.51,-.46,-.42,-.37,-.33,-.28],
[-.05,-.72,-.68,-.63,-.59,-.54,-.50,-.45,-.41,-.36,-.32],
[-.07,-.71,-.66,-.62,-.57,-.53,-.48,-.44,-.39,-.35],
[-.09,-.70,-.65,-.61,-.56,-.52,-.47,-.43,-.38,-.34],
[-.11,-.69,-.64,-.60,-.55,-.51,-.46,-.42,-.37],
[-.13,-.68,-.63,-.59,-.54,-.50,-.45,-.41],
[-.15,-.67,-.62,-.58,-.53,-.49,-.44],
[-.17,-.66,-.61,-.57,-.52,-.48],
[-.19,-.65,-.60,-.56,-.51],
[-.21,-.64,-.59,-.55,-.50],
[-.23,-.63,-.58,-.54],
[-.25,-.62,-.57]
];

const purple = [
[-.89,-.49],[-.83,-.51],[-.75,-.49],[-.75,-.55],[-.68,-.50],[-.76,-.35],[-.73,-.44],[-.75,-.44],[-.68,-.45],[-.65,-.46],[-.75,-.67],[-.71,-.65],[-.71,-.66],[-.66,-.66],[-.65,-.68],[-.62,-.68],[-.68,-.94],[-.61,-.88],[-.60,-.88],[-.59,-.84],[-.55,-.83],[-.59,-.60],[-.61,-.61],[-.60,-.64],[-.55,-.66],[-.52,-.67],[-.53,-.72],[-.53,-.74],[-.56,-.75],[-.55,-.77],[-.52,-.78],[-.49,-.77],[-.46,-.74],[-.48,-.85],[-.47,-.83],[-.46,-.91],[-.46,-.94],[-.46,-.89],[-.36,-.91],[-.36,-.92],[-.35,-.96],[-.62,-.58],[-.58,-.58],[-.55,-.58],[-.53,-.60],[-.50,-.59],[-.51,-.69],[-.49,-.70],[-.49,-.72],[-.44,-.74],[-.42,-.78],[-.40,-.78],[-.39,-.82],[-.36,-.80],[-.35,-.84],[-.46,-.78],[-.72,-.36],[-.67,-.45],[-.65,-.47],[-.73,-.43],
[-.30,-.88],[-.30,-.94],[-.24,-.93],[-.24,-.96],[-.23,-.89],[-.22,-.89],[-.20,-.92],[-.18,-.93],[-.16,-.94],[-.11,-.94],[-.14,-.84],[-.15,-.87],[-.09,-.85],[-.07,-.86],[-.05,-.85],[-.06,-.92],[-.04,-.94],[-.02,-.97],[.08,-.97],[.08,-.83],[.07,-.79],[.03,-.89],[.04,-.90],[-.23,-.83],[-.23,-.84],[-.28,-.83],[-.30,-.83],[-.29,-.78],[-.20,-.78],[-.16,-.79],[-.14,-.78],[-.12,-.76],[-.07,-.78],[-.01,-.76],[-.33,-.80],[-.25,-.74],[-.18,-.74],[-.14,-.75],[-.03,-.72],
[-.46,.16],[-.54,.13],[-.49,.11],[-.57,.04],[-.65,-.01],[-.77,-.05],[-.35,.02],[-.44,-.01],[-.58,-.03],[-.58,-.06],[-.54,-.03],[-.52,-.04],[-.51,-.07],[-.67,-.09],[-.70,-.11],[-.66,-.14],[-.63,-.15],[-.70,-.16],[-.64,-.23],[-.69,-.25],[-.74,-.25],[-.58,-.19],[-.60,-.27],[-.55,-.14],[-.52,-.11],[-.46,-.05],[-.42,-.03],[-.38,-.04],[-.36,-.02],[-.42,-.09],[-.46,-.11],[-.54,-.23],[-.57,-.30],
[-.05,.19],[-.23,.15],[-.30,.08],[-.10,.09],[-.24,.04],[-.15,.04],[.01,.03],[-.30,-.02],[-.28,-.05],[-.20,-.07],[-.14,-.06],[-.06,-.01],[-.08,-.09],[-.12,-.08],
[-.44,-.12],[-.38,-.11],[-.32,-.13],[-.26,-.11],[-.20,-.12],
[-.52,-.16],[-.46,-.15],[-.40,-.17],[-.34,-.15],[-.28,-.16],[-.22,-.15],[-.16,-.17],[-.10,-.16],
[-.56,-.20],[-.52,-.19],[-.48,-.21],[-.44,-.19],[-.40,-.20],[-.36,-.18],[-.32,-.21],[-.28,-.19],[-.24,-.20],[-.20,-.18],[-.16,-.21],[-.12,-.19],[-.07,-.20],
[-.58,-.24],[-.54,-.23],[-.50,-.25],[-.46,-.23],[-.42,-.24],[-.38,-.22],[-.34,-.25],[-.30,-.23],[-.26,-.24],[-.22,-.22],[-.18,-.25],[-.14,-.23],[-.10,-.24],[-.05,-.23],
[-.60,-.28],[-.56,-.27],[-.52,-.29],[-.48,-.27],[-.44,-.28],[-.40,-.26],[-.36,-.29],[-.32,-.27],[-.28,-.28],[-.24,-.26],[-.20,-.29],[-.16,-.27],[-.12,-.28],[-.08,-.26],[-.03,-.28],
[-.62,-.32],[-.58,-.31],[-.54,-.33],[-.50,-.31],[-.46,-.32],[-.42,-.30],[-.38,-.33],[-.34,-.31],[-.30,-.32],[-.26,-.30],[-.22,-.33],[-.18,-.31],[-.14,-.32],[-.10,-.30],[-.05,-.32],[.00,-.31],
[-.63,-.36],[-.59,-.35],[-.55,-.37],[-.51,-.35],[-.47,-.36],[-.43,-.34],[-.39,-.37],[-.35,-.35],[-.31,-.36],[-.27,-.34],[-.23,-.37],[-.19,-.35],[-.15,-.36],[-.11,-.34],[-.07,-.36],[-.02,-.35],
[-.63,-.40],[-.59,-.39],[-.55,-.41],[-.51,-.39],[-.47,-.40],[-.43,-.38],[-.39,-.41],[-.35,-.39],[-.31,-.40],[-.27,-.38],[-.23,-.41],[-.19,-.39],[-.15,-.40],[-.11,-.38],[-.07,-.40],[-.02,-.39],
[-.62,-.44],[-.58,-.43],[-.54,-.45],[-.50,-.43],[-.46,-.44],[-.42,-.42],[-.38,-.45],[-.34,-.43],[-.30,-.44],[-.26,-.42],[-.22,-.45],[-.18,-.43],[-.14,-.44],[-.10,-.42],[-.06,-.44],
[-.61,-.48],[-.57,-.47],[-.53,-.49],[-.49,-.47],[-.45,-.48],[-.41,-.46],[-.37,-.49],[-.33,-.47],[-.29,-.48],[-.25,-.46],[-.21,-.49],[-.17,-.47],[-.13,-.48],[-.09,-.46],[-.04,-.48],
[-.59,-.52],[-.55,-.51],[-.51,-.53],[-.47,-.51],[-.43,-.52],[-.39,-.50],[-.35,-.53],[-.31,-.51],[-.27,-.52],[-.23,-.50],[-.19,-.53],[-.15,-.51],[-.11,-.52],[-.06,-.50],
[-.56,-.56],[-.52,-.55],[-.48,-.57],[-.44,-.55],[-.40,-.56],[-.36,-.54],[-.32,-.57],[-.28,-.55],[-.24,-.56],[-.20,-.54],[-.16,-.57],[-.12,-.55],[-.07,-.56],
[-.53,-.60],[-.49,-.59],[-.45,-.61],[-.41,-.59],[-.37,-.60],[-.33,-.58],[-.29,-.61],[-.25,-.59],[-.21,-.60],[-.17,-.58],[-.13,-.61],[-.08,-.60],
[-.50,-.64],[-.46,-.63],[-.42,-.65],[-.38,-.63],[-.34,-.64],[-.30,-.62],[-.26,-.65],[-.22,-.63],[-.18,-.64],[-.14,-.62],[-.09,-.64],
[-.46,-.68],[-.42,-.67],[-.38,-.69],[-.34,-.67],[-.30,-.68],[-.26,-.66],[-.22,-.69],[-.18,-.67],[-.13,-.68],
[-.42,-.72],[-.38,-.71],[-.34,-.73],[-.30,-.71],[-.26,-.72],[-.22,-.70],[-.17,-.72],[-.36,-.76],[-.32,-.75],[-.28,-.77],[-.24,-.75],
[-.50,-.27],[-.46,-.26],[-.42,-.28],[-.38,-.25],[-.34,-.27],[-.30,-.26],[-.26,-.28],[-.22,-.25],
[-.52,-.31],[-.48,-.30],[-.44,-.32],[-.40,-.29],[-.36,-.31],[-.32,-.30],[-.28,-.32],[-.24,-.29],[-.20,-.31],[-.16,-.30],
[-.53,-.35],[-.49,-.34],[-.45,-.36],[-.41,-.33],[-.37,-.35],[-.33,-.34],[-.29,-.36],[-.25,-.33],[-.21,-.35],[-.17,-.34],[-.13,-.35],
[-.53,-.39],[-.49,-.38],[-.45,-.40],[-.41,-.37],[-.37,-.39],[-.33,-.38],[-.29,-.40],[-.25,-.37],[-.21,-.39],[-.17,-.38],[-.13,-.39],
[-.52,-.43],[-.48,-.42],[-.44,-.44],[-.40,-.41],[-.36,-.43],[-.32,-.42],[-.28,-.44],[-.24,-.41],[-.20,-.43],[-.16,-.42],[-.12,-.43],
[-.51,-.47],[-.47,-.46],[-.43,-.48],[-.39,-.45],[-.35,-.47],[-.31,-.46],[-.27,-.48],[-.23,-.45],[-.19,-.47],[-.15,-.46],
[-.49,-.51],[-.45,-.50],[-.41,-.52],[-.37,-.49],[-.33,-.51],[-.29,-.50],[-.25,-.52],[-.21,-.49],[-.17,-.51],
[-.46,-.55],[-.42,-.54],[-.38,-.56],[-.34,-.53],[-.30,-.55],[-.26,-.54],[-.22,-.56],[-.18,-.55],
[-.43,-.59],[-.39,-.58],[-.35,-.60],[-.31,-.57],[-.27,-.59],[-.23,-.58],
[-.48,-.18],[-.42,-.17],[-.36,-.19],[-.30,-.18],[-.24,-.17],[-.18,-.19],[-.12,-.18],
[-.54,-.22],[-.48,-.23],[-.42,-.21],[-.36,-.22],[-.30,-.23],[-.24,-.21],[-.18,-.22],[-.12,-.23],[-.06,-.22],
[-.56,-.26],[-.52,-.25],[-.46,-.26],[-.40,-.25],[-.34,-.26],[-.28,-.25],[-.22,-.26],[-.16,-.25],[-.10,-.26],[-.05,-.25],
[-.58,-.30],[-.54,-.29],[-.48,-.30],[-.42,-.29],[-.36,-.30],[-.30,-.29],[-.24,-.30],[-.18,-.29],[-.12,-.30],[-.07,-.29],[-.02,-.30],
[-.60,-.34],[-.55,-.33],[-.49,-.34],[-.43,-.33],[-.37,-.34],[-.31,-.33],[-.25,-.34],[-.19,-.33],[-.13,-.34],[-.08,-.33],[-.03,-.34],
[-.60,-.38],[-.55,-.37],[-.49,-.38],[-.43,-.37],[-.37,-.38],[-.31,-.37],[-.25,-.38],[-.19,-.37],[-.13,-.38],[-.08,-.37],[-.03,-.38],
[-.60,-.42],[-.55,-.41],[-.49,-.42],[-.43,-.41],[-.37,-.42],[-.31,-.41],[-.25,-.42],[-.19,-.41],[-.13,-.42],[-.08,-.41],[-.04,-.42],
[-.58,-.46],[-.53,-.45],[-.47,-.46],[-.41,-.45],[-.35,-.46],[-.29,-.45],[-.23,-.46],[-.17,-.45],[-.11,-.46],[-.06,-.45],
[-.56,-.50],[-.51,-.49],[-.45,-.50],[-.39,-.49],[-.33,-.50],[-.27,-.49],[-.21,-.50],[-.15,-.49],[-.09,-.50],
[-.53,-.54],[-.48,-.53],[-.42,-.54],[-.36,-.53],[-.30,-.54],[-.24,-.53],[-.18,-.54],[-.12,-.53],
[-.50,-.58],[-.45,-.57],[-.39,-.58],[-.33,-.57],[-.27,-.58],[-.21,-.57],[-.15,-.58],[-.10,-.57],
[-.47,-.62],[-.42,-.61],[-.36,-.62],[-.30,-.61],[-.24,-.62],[-.18,-.61],[-.12,-.62],
[-.44,-.66],[-.38,-.65],[-.32,-.66],[-.26,-.65],[-.20,-.66],[-.15,-.65],
[-.40,-.70],[-.34,-.69],[-.28,-.70],[-.22,-.69]
];
const purpleFill = [
[-.13,-.42,-.36,-.30,-.24],
[-.15,-.48,-.43,-.38,-.33,-.28,-.23,-.18],
[-.17,-.52,-.47,-.42,-.37,-.32,-.27,-.22,-.17,-.12],
[-.19,-.54,-.50,-.45,-.41,-.36,-.32,-.27,-.23,-.18,-.14,-.09],
[-.21,-.56,-.52,-.47,-.43,-.38,-.34,-.29,-.25,-.20,-.16,-.11,-.07],
[-.23,-.58,-.53,-.49,-.44,-.40,-.35,-.31,-.26,-.22,-.17,-.13,-.08,-.04],
[-.25,-.59,-.55,-.50,-.46,-.41,-.37,-.32,-.28,-.23,-.19,-.14,-.10,-.05],
[-.27,-.60,-.56,-.51,-.47,-.42,-.38,-.33,-.29,-.24,-.20,-.15,-.11,-.06,-.02],
[-.29,-.61,-.57,-.52,-.48,-.43,-.39,-.34,-.30,-.25,-.21,-.16,-.12,-.07,-.03],
[-.31,-.62,-.58,-.53,-.49,-.44,-.40,-.35,-.31,-.26,-.22,-.17,-.13,-.08,-.04],
[-.33,-.61,-.57,-.52,-.48,-.43,-.39,-.34,-.30,-.25,-.21,-.16,-.12,-.07,-.03],
[-.35,-.62,-.58,-.53,-.49,-.44,-.40,-.35,-.31,-.26,-.22,-.17,-.13,-.08,-.04],
[-.37,-.61,-.57,-.52,-.48,-.43,-.39,-.34,-.30,-.25,-.21,-.16,-.12,-.07,-.03],
[-.39,-.62,-.58,-.53,-.49,-.44,-.40,-.35,-.31,-.26,-.22,-.17,-.13,-.08,-.04],
[-.41,-.61,-.57,-.52,-.48,-.43,-.39,-.34,-.30,-.25,-.21,-.16,-.12,-.07,-.03],
[-.43,-.60,-.56,-.51,-.47,-.42,-.38,-.33,-.29,-.24,-.20,-.15,-.11,-.06],
[-.45,-.59,-.55,-.50,-.46,-.41,-.37,-.32,-.28,-.23,-.19,-.14,-.10,-.05],
[-.47,-.58,-.54,-.49,-.45,-.40,-.36,-.31,-.27,-.22,-.18,-.13,-.09,-.05],
[-.49,-.57,-.53,-.48,-.44,-.39,-.35,-.30,-.26,-.21,-.17,-.12,-.08],
[-.51,-.56,-.51,-.47,-.42,-.38,-.33,-.29,-.24,-.20,-.15,-.11,-.07],
[-.53,-.54,-.50,-.45,-.41,-.36,-.32,-.27,-.23,-.18,-.14,-.10],
[-.55,-.53,-.48,-.44,-.39,-.35,-.30,-.26,-.21,-.17,-.13,-.09],
[-.57,-.51,-.47,-.42,-.38,-.33,-.29,-.24,-.20,-.16,-.12],
[-.59,-.49,-.45,-.40,-.36,-.31,-.27,-.22,-.18,-.14,-.10],
[-.61,-.47,-.43,-.38,-.34,-.29,-.25,-.20,-.16,-.12],
[-.63,-.45,-.41,-.36,-.32,-.27,-.23,-.18,-.14],
[-.65,-.43,-.38,-.34,-.29,-.25,-.20,-.16],
[-.67,-.40,-.36,-.31,-.27,-.22,-.18],
[-.69,-.37,-.33,-.28,-.24,-.20],
[-.71,-.34,-.30,-.25,-.21],
[-.73,-.31,-.26]
];

const brown = [
[.78,-.41],[.74,-.43],[.71,-.47],[.75,-.50],[.76,-.55],[.89,-.60],[.93,-.62],[.84,-.65],[.76,-.65],[.74,-.67],[.80,-.74],[.69,-.74],[.66,-.72],[.61,-.72],[.60,-.77],[.64,-.83],[.60,-.84],[.56,-.90],[.66,-.93],[.51,-.97],[.41,-.97],[.35,-1.0],[.43,-.87],[.48,-.87],[.49,-.88],[.49,-.82],[.54,-.80],[.53,-.78],[.35,-.93],[.34,-.92],[.67,-.66],[.64,-.64],[.59,-.67],[.57,-.69],[.53,-.67],[.54,-.73],[.52,-.71],[.49,-.74],[.50,-.77],[.46,-.78],[.43,-.79],[.37,-.80],[.41,-.82],[.34,-.76],[.67,-.61],[.68,-.58],[.67,-.56],[.66,-.52],[.64,-.54],[.64,-.50],[.62,-.59],[.60,-.62],[.58,-.60],[.55,-.59],[.53,-.61],[.56,-.63],[.59,-.53],[.55,-.56],[.54,-.53],[.59,-.49],[.64,-.50],[.67,-.51],[.70,-.49],[.71,-.44],[.69,-.42],[.66,-.43],[.62,-.42],[.60,-.45],[.63,-.37],[.67,-.36],[.74,-.34],[.78,-.34],[.58,-.40],[.57,-.35],[.35,-.71],[.42,-.74],[.43,-.71],[.47,-.72],[.53,-.78],
[-.22,-.96],[-.05,-.96],[.07,-.86],[.04,-.89],[.12,-.94],[.15,-.98],[.25,-.96],[.19,-.91],[.20,-.92],[.24,-.91],[.33,-.92],[.14,-.86],[.17,-.87],[.19,-.83],[.22,-.83],[.25,-.83],[.27,-.85],[.28,-.86],[.31,-.84],[.14,-.82],[.11,-.80],[.03,-.83],[.02,-.79],[.00,-.76],[.05,-.74],[.12,-.78],[.15,-.78],[.18,-.75],[.22,-.78],[.25,-.76],[.23,-.75],[.30,-.74],[.32,-.78],[-.06,-.89],[-.03,-.87],[-.03,-.89],[-.08,-.88],[-.07,-.72],[-.13,-.74],[-.12,-.71],[-.04,-.71],[-.15,-.68],[-.20,-.67],[-.21,-.65],[-.15,-.66],[-.09,-.68],[-.20,-.61],[-.21,-.57],[-.23,-.54],[-.14,-.55],
[-.27,-.36],[-.27,-.40],[-.28,-.36],[-.22,-.42],[-.17,-.37],[-.20,-.45],[-.19,-.49],[-.18,-.51],[-.14,-.44],[-.15,-.35],[-.21,-.57],[-.21,-.61],[-.43,-.80],
[.05,.09],[.15,.06],[.15,.03],[.19,.09],[.21,.08],[.25,.03],[.33,.04],[.02,-.03],[.03,-.05],[.05,-.06],[.08,.02],[.12,-.03],[.09,-.05],[.15,-.04],[.13,-.07],[.18,-.05],[.22,-.04],[.23,-.09],[.27,-.07],[.31,-.04],[.15,-.09],[.12,-.12],[.13,-.16],[.05,-.10],[.07,-.13],[.23,-.16],[.21,-.17],[.28,-.14],[.33,-.12],[.32,-.18],[.02,-.12],[-.05,-.11],[-.02,-.07],[-.10,-.09],[-.11,-.11],[-.08,-.14],[-.05,-.15],[-.15,-.13],[-.14,-.23],[-.10,-.23],[-.12,-.23],[-.03,-.20],[-.04,-.24],[-.30,-.25],[-.28,-.26],[-.30,-.31],[-.12,-.28],[-.08,-.28],[-.13,-.02],[-.13,-.31],
[.69,.11],[.62,.10],[.65,.03],[.55,.04],[.45,.18],[.39,.11],[.39,.00],[.70,-.11],[.64,-.14],[.68,-.15],[.75,-.16],[.75,-.20],[.85,-.19],[.57,-.09],[.59,-.12],[.52,-.13],[.57,-.19],[.61,-.19],[.62,-.22],[.65,-.25],[.67,-.28],[.78,-.27],[.77,-.32],[.71,-.29],[.61,-.28],[.46,-.11],[.46,-.04],[.40,-.08],[.41,-.11],[.37,-.17],[.45,-.14],
[.20,-.10],[.26,-.11],[.32,-.09],[.38,-.12],[.44,-.10],[.41,-.15],[.47,-.17],[.50,-.22],[.52,-.26],[.35,-.13],[.29,-.13],
[.00,-.16],[.06,-.15],[.12,-.17],[.18,-.15],[.24,-.16],[.30,-.15],[.36,-.17],
[-.06,-.20],[-.02,-.19],[.02,-.21],[.06,-.19],[.10,-.20],[.14,-.18],[.18,-.21],[.22,-.19],[.26,-.20],[.30,-.18],[.34,-.21],[.38,-.19],[.43,-.20],
[-.08,-.24],[-.04,-.23],[.00,-.25],[.04,-.23],[.08,-.24],[.12,-.22],[.16,-.25],[.20,-.23],[.24,-.24],[.28,-.22],[.32,-.25],[.36,-.23],[.40,-.24],[.45,-.23],
[-.10,-.28],[-.06,-.27],[-.02,-.29],[.02,-.27],[.06,-.28],[.10,-.26],[.14,-.29],[.18,-.27],[.22,-.28],[.26,-.26],[.30,-.29],[.34,-.27],[.38,-.28],[.42,-.26],[.47,-.28],
[-.11,-.32],[-.07,-.31],[-.03,-.33],[.01,-.31],[.05,-.32],[.09,-.30],[.13,-.33],[.17,-.31],[.21,-.32],[.25,-.30],[.29,-.33],[.33,-.31],[.37,-.32],[.41,-.30],[.45,-.32],[.50,-.31],
[-.12,-.36],[-.08,-.35],[-.04,-.37],[.00,-.35],[.04,-.36],[.08,-.34],[.12,-.37],[.16,-.35],[.20,-.36],[.24,-.34],[.28,-.37],[.32,-.35],[.36,-.36],[.40,-.34],[.44,-.36],[.49,-.35],
[-.12,-.40],[-.08,-.39],[-.04,-.41],[.00,-.39],[.04,-.40],[.08,-.38],[.12,-.41],[.16,-.39],[.20,-.40],[.24,-.38],[.28,-.41],[.32,-.39],[.36,-.40],[.40,-.38],[.44,-.40],[.49,-.39],
[-.11,-.44],[-.07,-.43],[-.03,-.45],[.01,-.43],[.05,-.44],[.09,-.42],[.13,-.45],[.17,-.43],[.21,-.44],[.25,-.42],[.29,-.45],[.33,-.43],[.37,-.44],[.41,-.42],[.45,-.44],[.50,-.43],
[-.10,-.48],[-.06,-.47],[-.02,-.49],[.02,-.47],[.06,-.48],[.10,-.46],[.14,-.49],[.18,-.47],[.22,-.48],[.26,-.46],[.30,-.49],[.34,-.47],[.38,-.48],[.42,-.46],[.46,-.48],[.51,-.47],
[-.08,-.52],[-.04,-.51],[.00,-.53],[.04,-.51],[.08,-.52],[.12,-.50],[.16,-.53],[.20,-.51],[.24,-.52],[.28,-.50],[.32,-.53],[.36,-.51],[.40,-.52],[.44,-.50],[.49,-.52],
[-.06,-.56],[-.02,-.55],[.02,-.57],[.06,-.55],[.10,-.56],[.14,-.54],[.18,-.57],[.22,-.55],[.26,-.56],[.30,-.54],[.34,-.57],[.38,-.55],[.42,-.56],[.47,-.55],
[-.04,-.60],[.00,-.59],[.04,-.61],[.08,-.59],[.12,-.60],[.16,-.58],[.20,-.61],[.24,-.59],[.28,-.60],[.32,-.58],[.36,-.61],[.40,-.59],[.45,-.60],
[.00,-.64],[.04,-.63],[.08,-.65],[.12,-.63],[.16,-.64],[.20,-.62],[.24,-.65],[.28,-.63],[.32,-.64],[.36,-.62],[.41,-.64],
[.04,-.68],[.08,-.67],[.12,-.69],[.16,-.67],[.20,-.68],[.24,-.66],[.28,-.69],[.32,-.67],[.37,-.68],
[.09,-.72],[.14,-.71],[.19,-.73],[.24,-.71],[.29,-.72],[.34,-.70],
[.00,-.27],[.04,-.26],[.08,-.28],[.12,-.25],[.16,-.27],[.20,-.26],[.24,-.28],[.28,-.25],[.32,-.27],
[-.05,-.31],[-.01,-.30],[.03,-.32],[.07,-.29],[.11,-.31],[.15,-.30],[.19,-.32],[.23,-.29],[.27,-.31],[.31,-.30],[.35,-.31],[.39,-.30],
[-.06,-.35],[-.02,-.34],[.02,-.36],[.06,-.33],[.10,-.35],[.14,-.34],[.18,-.36],[.22,-.33],[.26,-.35],[.30,-.34],[.34,-.35],[.38,-.34],[.42,-.35],
[-.06,-.39],[-.02,-.38],[.02,-.40],[.06,-.37],[.10,-.39],[.14,-.38],[.18,-.40],[.22,-.37],[.26,-.39],[.30,-.38],[.34,-.39],[.38,-.38],[.42,-.39],
[-.05,-.43],[-.01,-.42],[.03,-.44],[.07,-.41],[.11,-.43],[.15,-.42],[.19,-.44],[.23,-.41],[.27,-.43],[.31,-.42],[.35,-.43],[.39,-.42],[.43,-.43],
[-.04,-.47],[.00,-.46],[.04,-.48],[.08,-.45],[.12,-.47],[.16,-.46],[.20,-.48],[.24,-.45],[.28,-.47],[.32,-.46],[.36,-.47],[.40,-.46],
[-.02,-.51],[.02,-.50],[.06,-.52],[.10,-.49],[.14,-.51],[.18,-.50],[.22,-.52],[.26,-.49],[.30,-.51],[.34,-.50],[.38,-.51],
[.00,-.55],[.04,-.54],[.08,-.56],[.12,-.53],[.16,-.55],[.20,-.54],[.24,-.56],[.28,-.53],[.32,-.55],[.36,-.54],
[.06,-.59],[.10,-.58],[.14,-.60],[.18,-.57],[.22,-.59],[.26,-.58],[.30,-.59],
[.02,-.18],[.08,-.17],[.14,-.19],[.20,-.18],[.26,-.17],[.32,-.19],[.38,-.18],
[-.04,-.22],[.02,-.23],[.08,-.21],[.14,-.22],[.20,-.23],[.26,-.21],[.32,-.22],[.38,-.23],[.43,-.22],
[-.06,-.26],[-.01,-.25],[.05,-.26],[.11,-.25],[.17,-.26],[.23,-.25],[.29,-.26],[.35,-.25],[.41,-.26],[.46,-.25],
[-.08,-.30],[-.03,-.29],[.03,-.30],[.09,-.29],[.15,-.30],[.21,-.29],[.27,-.30],[.33,-.29],[.39,-.30],[.44,-.29],[.48,-.30],
[-.10,-.34],[-.04,-.33],[.02,-.34],[.08,-.33],[.14,-.34],[.20,-.33],[.26,-.34],[.32,-.33],[.38,-.34],[.44,-.33],[.48,-.34],
[-.10,-.38],[-.04,-.37],[.02,-.38],[.08,-.37],[.14,-.38],[.20,-.37],[.26,-.38],[.32,-.37],[.38,-.38],[.44,-.37],[.48,-.38],
[-.09,-.42],[-.03,-.41],[.03,-.42],[.09,-.41],[.15,-.42],[.21,-.41],[.27,-.42],[.33,-.41],[.39,-.42],[.45,-.41],[.49,-.42],
[-.08,-.46],[-.02,-.45],[.04,-.46],[.10,-.45],[.16,-.46],[.22,-.45],[.28,-.46],[.34,-.45],[.40,-.46],[.45,-.45],
[-.06,-.50],[.00,-.49],[.06,-.50],[.12,-.49],[.18,-.50],[.24,-.49],[.30,-.50],[.36,-.49],[.42,-.50],[.46,-.49],
[-.04,-.54],[.02,-.53],[.08,-.54],[.14,-.53],[.20,-.54],[.26,-.53],[.32,-.54],[.38,-.53],[.44,-.54],
[-.02,-.58],[.04,-.57],[.10,-.58],[.16,-.57],[.22,-.58],[.28,-.57],[.34,-.58],[.40,-.57],
[.02,-.62],[.08,-.61],[.14,-.62],[.20,-.61],[.26,-.62],[.32,-.61],[.38,-.62],
[.06,-.66],[.12,-.65],[.18,-.66],[.24,-.65],[.30,-.66],[.35,-.65],
[.12,-.70],[.18,-.69],[.24,-.70],[.30,-.69]
];
const brownFill = [
[-.15,.04,.10,.16,.22,.28,.34],
[-.17,-.02,.03,.08,.14,.19,.24,.30,.35,.40],
[-.19,-.05,.00,.05,.10,.15,.20,.25,.30,.35,.40,.45],
[-.21,-.07,-.02,.03,.08,.13,.18,.23,.28,.33,.38,.43,.47],
[-.23,-.09,-.04,.01,.06,.11,.16,.21,.26,.31,.36,.41,.46,.50],
[-.25,-.10,-.05,.00,.05,.09,.14,.19,.24,.29,.33,.38,.43,.48],
[-.27,-.11,-.06,-.01,.03,.08,.13,.18,.22,.27,.32,.37,.41,.46,.50],
[-.29,-.12,-.07,-.02,.02,.07,.12,.16,.21,.26,.30,.35,.40,.44,.49],
[-.31,-.12,-.08,-.03,.01,.06,.11,.15,.20,.25,.29,.34,.39,.43,.48],
[-.33,-.13,-.08,-.04,.01,.05,.10,.15,.19,.24,.28,.33,.38,.42,.47,.51],
[-.35,-.12,-.08,-.03,.01,.06,.11,.15,.20,.25,.29,.34,.39,.43,.48],
[-.37,-.13,-.09,-.04,.00,.05,.10,.14,.19,.23,.28,.33,.37,.42,.46,.51],
[-.39,-.12,-.08,-.03,.01,.06,.11,.15,.20,.25,.29,.34,.39,.43,.48],
[-.41,-.13,-.09,-.04,.00,.05,.10,.14,.19,.23,.28,.33,.37,.42,.46,.51],
[-.43,-.12,-.08,-.03,.01,.06,.11,.15,.20,.25,.29,.34,.39,.43,.48],
[-.45,-.11,-.07,-.02,.02,.07,.12,.16,.21,.26,.30,.35,.40,.44,.49],
[-.47,-.10,-.06,-.01,.03,.08,.13,.17,.22,.27,.31,.36,.41,.45,.50],
[-.49,-.09,-.05,.00,.04,.09,.14,.18,.23,.28,.32,.37,.42,.46],
[-.51,-.08,-.04,.01,.05,.10,.15,.19,.24,.29,.33,.38,.43,.47],
[-.53,-.07,-.03,.02,.06,.11,.16,.20,.25,.30,.34,.39,.44],
[-.55,-.05,-.01,.04,.08,.13,.18,.22,.27,.32,.36,.41,.46],
[-.57,-.03,.01,.06,.10,.15,.20,.24,.29,.34,.38,.43],
[-.59,-.01,.03,.08,.12,.17,.22,.26,.31,.36,.40],
[-.61,.01,.05,.10,.14,.19,.24,.28,.33,.38],
[-.63,.04,.08,.13,.17,.22,.27,.31,.36],
[-.65,.07,.11,.16,.20,.25,.30,.34],
[-.67,.10,.14,.19,.23,.28,.32],
[-.69,.13,.18,.22,.27],
[-.71,.17,.22,.27]
];

// each cloud: its scattered pairs plus its dense core rows
const rowsToPairs = rows => rows.flatMap(r => r.slice(1).map(x => [x, r[0]]));
const groups = [
    blue.concat(rowsToPairs(blueFill)),
    orange.concat(rowsToPairs(orangeFill)),
    green.concat(rowsToPairs(greenFill)),
    red.concat(rowsToPairs(redFill)),
    purple.concat(rowsToPairs(purpleFill)),
    brown.concat(rowsToPairs(brownFill))
];
const groupColors = ['31,119,180', '255,127,14', '44,160,44', '214,39,40', '148,103,189', '140,86,75'];

const traces = groups.map((pts, i) => ({
    type: 'scatter',
    mode: 'markers',
    x: pts.map(p => p[0]),
    y: pts.map(p => p[1]),
    marker: {
        size: 16.3,
        color: `rgba(${groupColors[i]},0.5)`,
        line: { color: `rgba(${groupColors[i]},0.5)`, width: 3 }
    },
    hoverinfo: 'skip',
    showlegend: false
}));

// matplotlib draws the grid over the points, so the grid goes in as shapes above the traces
const gridShapes = [];
tickVals.filter(v => Math.abs(v) < 1).forEach(v => {
    gridShapes.push({ type: 'line', layer: 'above', xref: 'x', yref: 'paper', x0: v, x1: v, y0: 0, y1: 1, line: { color: '#b0b0b0', width: 2 } });
    gridShapes.push({ type: 'line', layer: 'above', xref: 'paper', yref: 'y', x0: 0, x1: 1, y0: v, y1: v, line: { color: '#b0b0b0', width: 2 } });
});

const axisBase = {
    range: [-1, 1],
    tickvals: tickVals,
    ticktext: tickText,
    ticks: 'outside', ticklen: 10, tickwidth: 2, tickcolor: '#000',
    showgrid: false, zeroline: false,
    showline: true, mirror: true, linecolor: '#000', linewidth: 2,
    tickfont: { family: 'DejaVu Sans, sans-serif', size: 27, color: '#000' },
    fixedrange: true
};

const layout = {
    width: 1166, height: 1115,
    margin: { l: 96, r: 32, t: 20, b: 57 },
    paper_bgcolor: '#fff', plot_bgcolor: '#fff',
    xaxis: { ...axisBase },
    yaxis: { ...axisBase },
    shapes: gridShapes,
    showlegend: false
};

Plotly.newPlot('chart', traces, layout, { displayModeBar: false, staticPlot: true });
</script>
</body>
</html>
